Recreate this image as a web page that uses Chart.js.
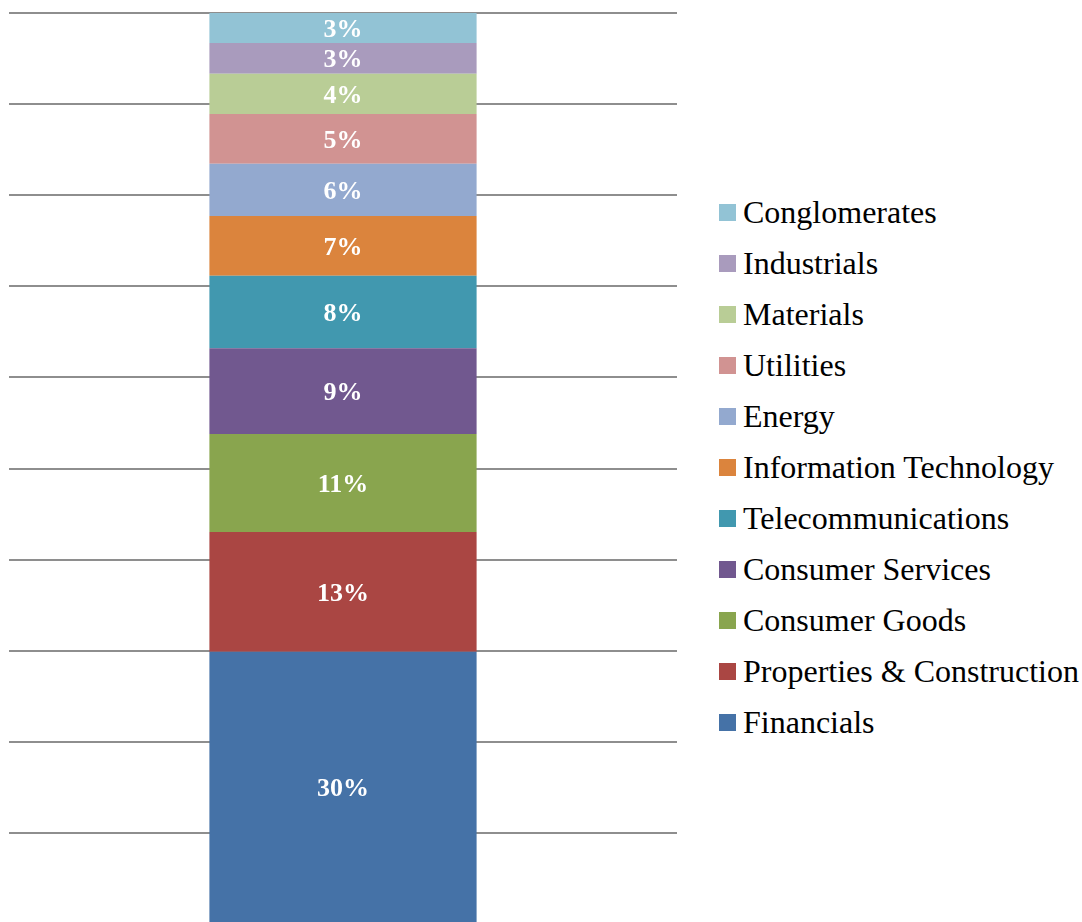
<!DOCTYPE html>
<html>
<head>
<meta charset="utf-8">
<title>Sector weights</title>
<script src="https://cdn.jsdelivr.net/npm/chart.js@4.4.1/dist/chart.umd.min.js"></script>
<style>
  html, body { margin: 0; padding: 0; background: #fff; overflow: hidden; }
  body { width: 1082px; height: 922px; position: relative; }
  #chartWrap { position: absolute; left: 0; top: 0; width: 684px; height: 926px; }
  #legend { position: absolute; left: 719px; top: 187px; margin: 0; padding: 0; list-style: none;
    font-family: "Liberation Serif", "Times New Roman", serif; font-size: 32px; color: #000; }
  #legend li { height: 51px; display: flex; align-items: center; white-space: nowrap; }
  #legend .swatch { width: 17px; height: 17px; margin-right: 7px; flex: none; }
</style>
</head>
<body>
<div id="chartWrap"><canvas id="sectorChart" width="684" height="926"></canvas></div>
<ul id="legend"></ul>
<script>
// ── Data ──────────────────────────────────────────────
const categories = [""];
const sectors = [
  "Financials", "Properties & Construction", "Consumer Goods", "Consumer Services",
  "Telecommunications", "Information Technology", "Energy", "Utilities",
  "Materials", "Industrials", "Conglomerates"
];
const shares = [29.89, 13.14, 10.76, 9.41, 7.97, 6.55, 5.74, 5.46, 4.42, 3.37, 3.29];
const colors = [
  "#4572A7", "#AA4643", "#89A54E", "#71588F", "#4198AF", "#DB843D",
  "#93A9CF", "#D19392", "#B9CD96", "#A99BBD", "#92C3D5"
];
const yTicks = [0, 10, 20, 30, 40, 50, 60, 70, 80, 90, 100];

(function () {
  "use strict";

  const serif = "'Liberation Serif', 'Times New Roman', serif";

  // ── Value labels inside each segment ──────────────────
  const segmentLabels = {
    id: "segmentLabels",
    afterDatasetsDraw(chart) {
      const ctx = chart.ctx;
      ctx.save();
      ctx.font = "bold 26px " + serif;
      ctx.fillStyle = "#ffffff";
      ctx.textAlign = "center";
      ctx.textBaseline = "middle";
      chart.data.datasets.forEach((ds, i) => {
        const meta = chart.getDatasetMeta(i);
        meta.data.forEach((bar, j) => {
          const p = bar.getProps(["x", "y", "base"], true);
          ctx.fillText(Math.round(ds.data[j]) + "%", p.x, (p.y + p.base) / 2 + 2);
        });
      });
      ctx.restore();
    }
  };

  // ── HTML legend (reversed, like the stack) ────────────
  const htmlLegend = {
    id: "htmlLegend",
    afterUpdate(chart) {
      const list = document.getElementById("legend");
      const items = chart.data.datasets.map((ds) => ({ text: ds.label, color: ds.backgroundColor }));
      list.innerHTML = items
        .reverse()
        .map((it) => `<li><span class="swatch" style="background:${it.color}"></span>${it.text}</li>`)
        .join("");
    }
  };

  // ── Chart ─────────────────────────────────────────────
  const datasets = sectors.map((name, i) => ({
    label: name,
    data: [shares[i]],
    backgroundColor: colors[i],
    borderWidth: 0,
    barPercentage: 0.4,
    categoryPercentage: 1
  }));

  new Chart(document.getElementById("sectorChart"), {
    type: "bar",
    data: { labels: categories, datasets: datasets },
    options: {
      responsive: false,
      animation: false,
      devicePixelRatio: 1,
      layout: { padding: { left: 9, right: 7, top: 13, bottom: 2 } },
      plugins: {
        legend: { display: false },
        tooltip: { enabled: false }
      },
      scales: {
        x: { stacked: true, display: false },
        y: {
          stacked: true,
          min: 0,
          max: 100,
          afterBuildTicks: (scale) => {
            scale.ticks = yTicks.map((v) => ({ value: v }));
          },
          ticks: { display: false },
          border: { display: false },
          grid: { color: "#8e8e8e", lineWidth: 2, drawTicks: false }
        }
      }
    },
    plugins: [segmentLabels, htmlLegend]
  });
})();
</script>
</body>
</html>
